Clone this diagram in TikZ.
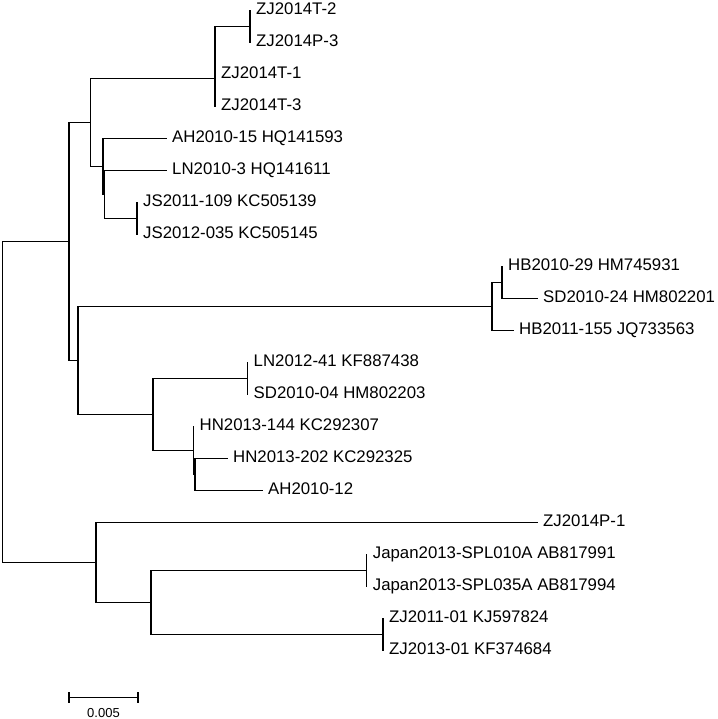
\documentclass[tikz,border=0pt]{standalone}
\usepackage{fontspec}
\setmainfont{Liberation Sans}
\usetikzlibrary{positioning}
\tikzset{
  branch/.style={
    line width = 1.2pt,
    line cap = rect
  },
  taxon/.style={
    inner sep = 0pt,
    text height = 0.72em,
    text depth = 0pt,
    font = \fontsize{16.8}{20}\selectfont
  },
  scalelab/.style={
    inner sep = 0pt,
    font = \fontsize{13}{15}\selectfont
  }
}

\begin{document}
\begin{tikzpicture}[x=1pt,y=-1pt]
    \def\yo{10.5}
    \def\dy{32}
    \def\gap{6pt}
    \useasboundingbox (0,0) rectangle (717,719);
    % tips and names of the taxa
    \foreach \n/\x/\i/\t in {
        zja/250/1/ZJ2014T-2, zjb/250/2/ZJ2014P-3,
        zjc/215/3/ZJ2014T-1, zjd/215/4/ZJ2014T-3,
        ahf/166/5/AH2010-15 HQ141593, lnt/166/6/LN2010-3 HQ141611,
        jsa/137/7/JS2011-109 KC505139, jsb/137/8/JS2012-035 KC505145,
        hba/502/9/HB2010-29 HM745931, sdt/537/10/SD2010-24 HM802201,
        hbb/513/11/HB2011-155 JQ733563,
        lnf/247.5/12/LN2012-41 KF887438, sdf/247.5/13/SD2010-04 HM802203,
        hna/193.5/14/HN2013-144 KC292307, hnb/227/15/HN2013-202 KC292325,
        ahw/262/16/AH2010-12,
        zjp/537/17/ZJ2014P-1,
        jpa/366.7/18/Japan2013-SPL010A AB817991,
        jpb/366.7/19/Japan2013-SPL035A AB817994,
        zjk/383/20/ZJ2011-01 KJ597824, zjl/383/21/ZJ2013-01 KF374684}{
    \coordinate (\n) at (\x, \yo+\dy*\i-\dy);
    \node[taxon, right=\gap of \n] (lab\n) {\t};}
    % inner nodes
    \coordinate (root) at (2.5, 402);
    \coordinate (nA) at (69, 241.5);
    \coordinate (nB) at (90.7, 122.5);
    \coordinate (nC) at (215, 78.5);
    \coordinate (nD) at (250, 26.5);
    \coordinate (nE) at (103, 166.5);
    \coordinate (nEb) at (104.5, 194.5);
    \coordinate (nF) at (137, 218.5);
    \coordinate (nG) at (78, 360.5);
    \coordinate (nH) at (492, 306.5);
    \coordinate (nI) at (502, 282.5);
    \coordinate (nJ) at (153, 414.5);
    \coordinate (nK) at (247.5, 378.5);
    \coordinate (nL) at (193.5, 450.5);
    \coordinate (nLb) at (195, 474.5);
    \coordinate (nM) at (96, 562.5);
    \coordinate (nN) at (151, 602.5);
    \coordinate (nO) at (366.7, 570.5);
    \coordinate (nP) at (383, 634.5);
    % branches
    \foreach \p/\c in {root/nA, root/nM, nA/nB, nA/nG, nB/nC, nB/nE,
        nC/nD, nC/zjc, nC/zjd, nD/zja, nD/zjb,
        nE/ahf, nE/nEb, nEb/lnt, nEb/nF, nF/jsa, nF/jsb,
        nG/nH, nG/nJ, nH/nI, nH/hbb, nI/hba, nI/sdt,
        nJ/nK, nJ/nL, nK/lnf, nK/sdf, nL/hna, nL/nLb, nLb/hnb, nLb/ahw,
        nM/zjp, nM/nN, nN/nO, nN/nP, nO/jpa, nO/jpb, nP/zjk, nP/zjl}{
    \draw[branch] (\p) |- (\c);}
    % scale bar
    \coordinate (sba) at (69, 697.7);
    \coordinate (sbb) at (138, 697.7);
    \draw[branch] (sba) -- (sbb);
    \foreach \s in {sba, sbb}{
    \draw[branch] ([yshift=-5pt]\s) -- ([yshift=5pt]\s);}
    \node[scalelab] (sblab) at (103.5, 713) {0.005};
\end{tikzpicture}
\end{document}
